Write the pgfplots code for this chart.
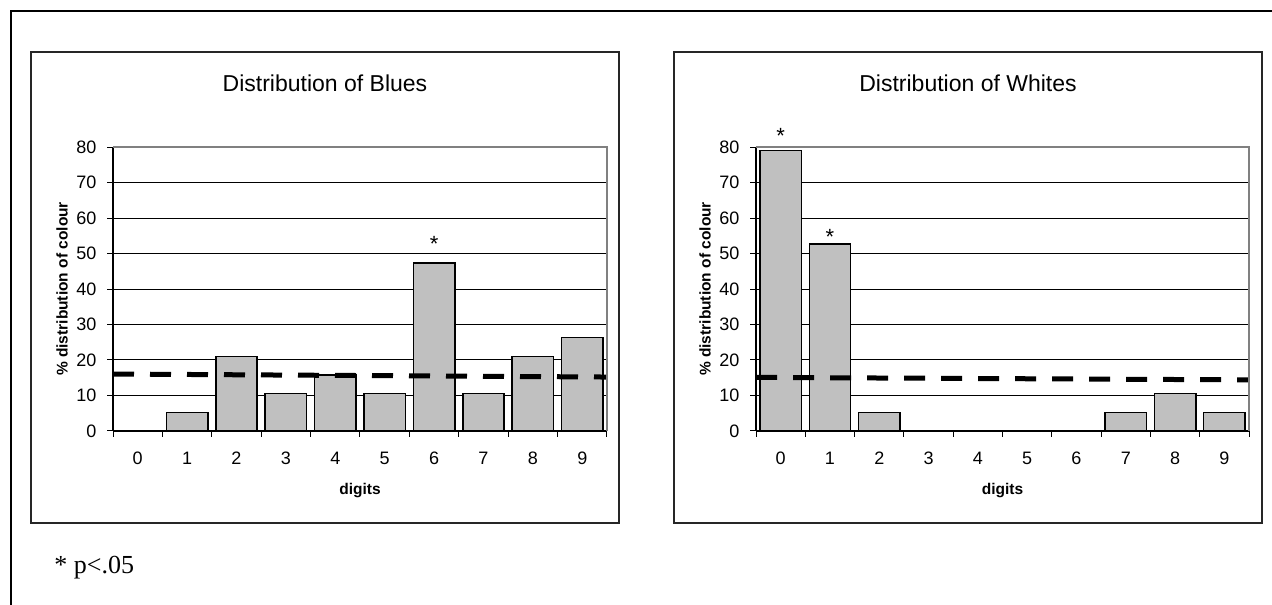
\documentclass[border=0pt]{standalone}
\usepackage{fontspec}
\setmainfont{Liberation Sans}
\newfontfamily\timesfont{Liberation Serif}
\usepackage{pgfplots}
\pgfplotsset{compat=1.18}
\definecolor{barfill}{HTML}{C0C0C0}
\definecolor{borderg}{HTML}{808080}
\pgfplotsset{
  digitaxis/.style={
    scale only axis, height=142pt,
    xmin=-0.5, xmax=9.5, ymin=0, ymax=80,
    axis x line*=bottom, axis y line*=left,
    axis line style={black, line width=0.6pt},
    xtick={-0.5,0.5,...,9.5}, xticklabels={},
    extra x ticks={0,1,2,3,4,5,6,7,8,9},
    extra x tick labels={0,1,2,3,4,5,6,7,8,9},
    extra x tick style={major tick length=0pt},
    ytick={0,10,...,80},
    tick align=outside, tick pos=left,
    major tick length=3pt,
    tick style={black, line width=0.5pt},
    ymajorgrids, grid style={black, line width=0.5pt},
    /pgf/number format/assume math mode=true,
    ticklabel style={font=\fontsize{9}{10}\selectfont},
    xticklabel style={yshift=-7pt},
    yticklabel style={xshift=-1.8pt},
    ylabel={\% distribution of colour}, xlabel={digits},
    every axis y label/.style={at={(axis description cs:-0.1032,0.5)}, rotate=90, anchor=center, font=\fontsize{7.75}{9}\selectfont\bfseries},
    every axis x label/.style={at={(axis description cs:0.5,-0.2113)}, anchor=center, font=\fontsize{7.75}{9}\selectfont\bfseries},
    clip=false,
  },
  barstyle/.style={ybar, bar width=0.84, bar shift=0pt, fill=barfill, draw=black, line width=0.75pt},
  refline/.style={sharp plot, black, line width=2.5pt, dash pattern=on 10.5pt off 8pt, mark=none},
}
\begin{document}
\begin{tikzpicture}
\useasboundingbox (0,0) rectangle (636pt,302pt);
\draw[line width=1pt] (5.5pt,-10pt) -- (5.5pt,296.5pt) -- (650pt,296.5pt);
\draw[line width=0.75pt, black!85] (15.5pt,40.5pt) rectangle (309.5pt,276pt);
\draw[line width=0.75pt, black!85] (337pt,40.5pt) rectangle (631pt,276pt);
\node[anchor=base, font=\fontsize{11.5}{12}\selectfont] at (162.5pt,256pt) {Distribution of Blues};
\node[anchor=base, font=\fontsize{11.5}{12}\selectfont] at (484pt,256pt) {Distribution of Whites};
\node[anchor=base west, inner sep=0pt, font=\timesfont\fontsize{13}{14}\selectfont] at (27pt,15.5pt) {* p<.05};

\begin{axis}[digitaxis, width=247pt, at={(56.5pt,86.5pt)}, anchor=south west]
\addplot[barstyle] coordinates {(1,5.26) (2,21.05) (3,10.53) (4,15.79) (5,10.53) (6,47.37) (7,10.53) (8,21.05) (9,26.32)};
\addplot[refline] coordinates {(-0.5,16.05) (9.5,15.2)};
\draw[borderg, line width=0.6pt] (rel axis cs:0,1) -- (rel axis cs:1,1) -- (rel axis cs:1,0);
\node[anchor=base, font=\fontsize{11}{11}\selectfont] at (axis cs:6,50.7) {*};
\end{axis}

\begin{axis}[digitaxis, width=246.5pt, at={(378pt,86.5pt)}, anchor=south west]
\addplot[barstyle] coordinates {(0,78.95) (1,52.63) (2,5.26) (7,5.26) (8,10.53) (9,5.26)};
\addplot[refline] coordinates {(-0.5,15.1) (9.5,14.4)};
\draw[borderg, line width=0.6pt] (rel axis cs:0,1) -- (rel axis cs:1,1) -- (rel axis cs:1,0);
\node[anchor=base, font=\fontsize{11}{11}\selectfont] at (axis cs:0,81.1) {*};
\node[anchor=base, font=\fontsize{11}{11}\selectfont] at (axis cs:1,52.5) {*};
\end{axis}
\end{tikzpicture}
\end{document}
